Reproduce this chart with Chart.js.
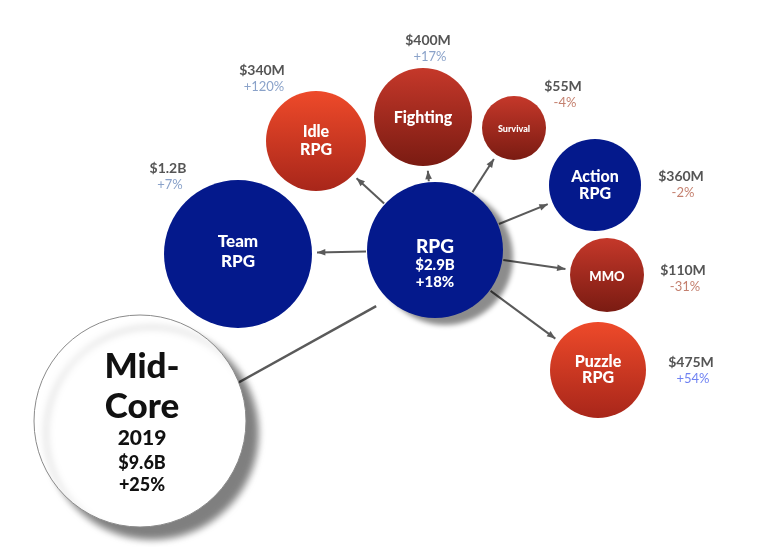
<!DOCTYPE html>
<html>
<head>
<meta charset="utf-8">
<script src="https://cdn.jsdelivr.net/npm/chart.js@4/dist/chart.umd.min.js"></script>
<style>
  body { margin: 0; background: #fff; }
  #wrap { width: 780px; height: 547px; }
</style>
</head>
<body>
<div id="wrap"><canvas id="chart"></canvas></div>
<script>
// Segments of the mid-core market, 2019
const names = ['Mid-Core', 'Team RPG', 'RPG', 'Idle RPG', 'Fighting', 'Survival', 'Action RPG', 'MMO', 'Puzzle RPG'];
const xs = [140, 238, 435, 316, 423, 514, 595, 607, 598];
const ys = [421, 254, 250, 141, 117, 128, 185, 275, 370];
const radii = [106, 74, 68, 50, 49, 32, 46, 37, 48];
const revenue = ['$9.6B', '$1.2B', '$2.9B', '$340M', '$400M', '$55M', '$360M', '$110M', '$475M'];
const growth = ['+25%', '+7%', '+18%', '+120%', '+17%', '-4%', '-2%', '-31%', '+54%'];
// arrows drawn from RPG to its sub-genres
const arrowTargets = ['Team RPG', 'Idle RPG', 'Fighting', 'Survival', 'Action RPG', 'MMO', 'Puzzle RPG'];

const FONT = 'Lato, "Open Sans", sans-serif';

// fill style per bubble
const fills = {
    'Mid-Core': 'white',
    'Team RPG': 'blue',
    'RPG': 'blue',
    'Idle RPG': 'red',
    'Fighting': 'darkred',
    'Survival': 'darkred',
    'Action RPG': 'blue',
    'MMO': 'darkred',
    'Puzzle RPG': 'red'
};

// text inside bubbles: [text, size, dx, dy]
const innerText = {
    'Mid-Core': [['Mid-', 35, 2, -54], ['Core', 35, 2, -14], ['2019', 21, 2, 17], ['$9.6B', 18, 2, 42], ['+25%', 18, 2, 64]],
    'Team RPG': [['Team', 17, 0, -12], ['RPG', 17, 0, 8]],
    'RPG': [['RPG', 19, 0, -3], ['$2.9B', 15, 0, 15], ['+18%', 15, 0, 32]],
    'Idle RPG': [['Idle', 16, 0, -9], ['RPG', 16, 0, 9]],
    'Fighting': [['Fighting', 16, 0, 1]],
    'Survival': [['Survival', 9, 0, 1]],
    'Action RPG': [['Action', 16, 0, -8], ['RPG', 16, 0, 9]],
    'MMO': [['MMO', 13, 0, 2]],
    'Puzzle RPG': [['Puzzle', 16, 0, -8], ['RPG', 16, 0, 8]]
};

// offset of the outside revenue / growth labels from the bubble centre
const outerOffset = {
    'Team RPG': [-70, -86],
    'Idle RPG': [-54, -71],
    'Fighting': [5, -77],
    'Survival': [49, -42],
    'Action RPG': [86, -9],
    'MMO': [76, -5],
    'Puzzle RPG': [93, -8]
};

function growthColor(g, name) {
    if (g.startsWith('-')) return '#c4806f';
    if (name === 'Puzzle RPG') return '#6f82f2';
    return '#8aa2c9';
}

function pointsFor(list) {
    return list.map(n => {
        const i = names.indexOf(n);
        return { x: xs[i], y: ys[i], r: radii[i], name: n };
    });
}

function bubbleFill(ctx) {
    const p = ctx.raw;
    const chart = ctx.chart;
    const kind = fills[p.name];
    if (kind === 'white') return '#ffffff';
    if (kind === 'blue') return '#04198c';
    const cy = chart.scales.y ? chart.scales.y.getPixelForValue(p.y) : NaN;
    // scales are not laid out yet on the first pass
    if (!Number.isFinite(cy)) return '#c0301c';
    const g = chart.ctx.createLinearGradient(0, cy - p.r, 0, cy + p.r);
    if (kind === 'red') {
        g.addColorStop(0, '#ee4a2a');
        g.addColorStop(1, '#a8261a');
    } else {
        g.addColorStop(0, '#c5382a');
        g.addColorStop(1, '#7a1b12');
    }
    return g;
}

const shadows = {
    0: { color: 'rgba(0,0,0,0.5)', blur: 7, dx: 12, dy: 12 },
    1: { color: 'rgba(0,0,0,0.45)', blur: 5, dx: 10, dy: 7 }
};

const shadowPlugin = {
    id: 'shadow',
    beforeDatasetDraw(chart, args) {
        const s = shadows[args.index];
        const ctx = chart.ctx;
        ctx.save();
        if (s) {
            ctx.shadowColor = s.color;
            ctx.shadowBlur = s.blur;
            ctx.shadowOffsetX = s.dx;
            ctx.shadowOffsetY = s.dy;
        }
    },
    afterDatasetDraw(chart) {
        chart.ctx.restore();
    }
};

function pix(chart, n) {
    const i = names.indexOf(n);
    return {
        x: chart.scales.x.getPixelForValue(xs[i]),
        y: chart.scales.y.getPixelForValue(ys[i]),
        r: radii[i]
    };
}

function drawArrow(ctx, x1, y1, x2, y2, head) {
    ctx.beginPath();
    ctx.moveTo(x1, y1);
    ctx.lineTo(x2, y2);
    ctx.stroke();
    if (!head) return;
    const a = Math.atan2(y2 - y1, x2 - x1);
    ctx.beginPath();
    ctx.moveTo(x2, y2);
    ctx.lineTo(x2 - 9 * Math.cos(a - 0.38), y2 - 9 * Math.sin(a - 0.38));
    ctx.lineTo(x2 - 9 * Math.cos(a + 0.38), y2 - 9 * Math.sin(a + 0.38));
    ctx.closePath();
    ctx.fill();
}

const linksPlugin = {
    id: 'links',
    beforeDatasetsDraw(chart) {
        const ctx = chart.ctx;
        const hub = pix(chart, 'RPG');
        ctx.save();
        ctx.strokeStyle = '#5a5a5a';
        ctx.fillStyle = '#5a5a5a';
        ctx.lineWidth = 2;
        arrowTargets.forEach(n => {
            const t = pix(chart, n);
            const dx = t.x - hub.x, dy = t.y - hub.y;
            const d = Math.hypot(dx, dy);
            const ux = dx / d, uy = dy / d;
            drawArrow(ctx,
                hub.x + ux * (hub.r + 1), hub.y + uy * (hub.r + 1),
                t.x - ux * (t.r + 5), t.y - uy * (t.r + 5), true);
        });
        // plain connector from the Mid-Core total to RPG
        const m = pix(chart, 'Mid-Core');
        const dx = hub.x - m.x, dy = hub.y - m.y;
        const d = Math.hypot(dx, dy);
        ctx.lineWidth = 2.5;
        drawArrow(ctx, m.x + dx / d * m.r * 0.8, m.y + dy / d * m.r * 0.8 + 18,
            hub.x - dx / d * hub.r, hub.y - dy / d * hub.r + 22, false);
        ctx.restore();
    }
};

const labelsPlugin = {
    id: 'labels',
    afterDatasetsDraw(chart) {
        const ctx = chart.ctx;
        ctx.save();
        ctx.textAlign = 'center';
        ctx.textBaseline = 'middle';
        names.forEach((n, i) => {
            const p = pix(chart, n);
            ctx.fillStyle = fills[n] === 'white' ? '#111' : '#ffffff';
            innerText[n].forEach(([t, size, dx, dy]) => {
                ctx.font = `900 ${size}px ${FONT}`;
                ctx.fillText(t, p.x + dx, p.y + dy);
            });
            const off = outerOffset[n];
            if (!off) return;
            ctx.font = `bold 14px ${FONT}`;
            ctx.fillStyle = '#555555';
            ctx.fillText(revenue[i], p.x + off[0], p.y + off[1]);
            ctx.font = `13px ${FONT}`;
            ctx.fillStyle = growthColor(growth[i], n);
            ctx.fillText(growth[i], p.x + off[0] + 2, p.y + off[1] + 17);
        });
        ctx.restore();
    }
};

new Chart(document.getElementById('chart'), {
    type: 'bubble',
    data: {
        datasets: [
            { data: pointsFor(['Mid-Core']), backgroundColor: bubbleFill, borderColor: '#8a8a8a', borderWidth: 1 },
            { data: pointsFor(['RPG']), backgroundColor: bubbleFill, borderWidth: 0 },
            { data: pointsFor(names.filter(n => n !== 'Mid-Core' && n !== 'RPG')), backgroundColor: bubbleFill, borderWidth: 0 }
        ]
    },
    options: {
        responsive: true,
        maintainAspectRatio: false,
        animation: false,
        layout: { padding: 0, autoPadding: false },
        clip: false,
        scales: {
            x: { display: false, min: 0, max: 780 },
            y: { display: false, min: 0, max: 547, reverse: true }
        },
        plugins: {
            legend: { display: false },
            tooltip: { enabled: false }
        },
        hover: { mode: null }
    },
    plugins: [shadowPlugin, linksPlugin, labelsPlugin]
});
</script>
</body>
</html>
